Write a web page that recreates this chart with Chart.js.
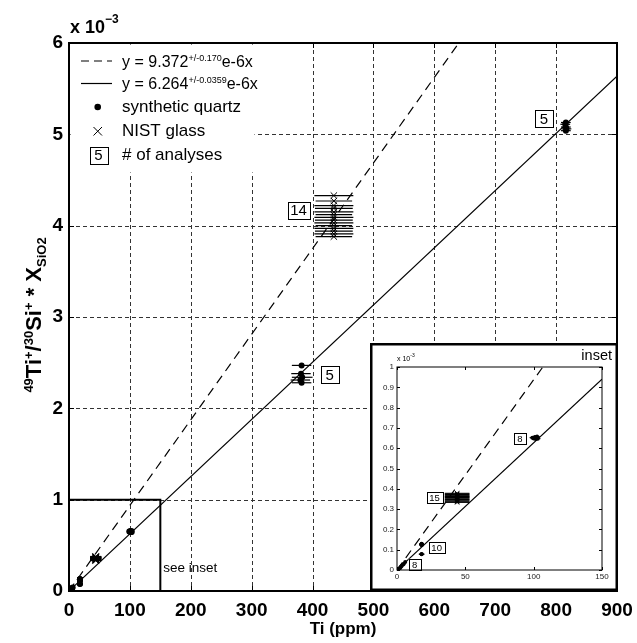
<!DOCTYPE html>
<html>
<head>
<meta charset="utf-8">
<script src="https://cdn.jsdelivr.net/npm/chart.js@4"></script>
<style>
  body { margin: 0; background: #fff; }
  #wrap { position: relative; width: 637px; height: 643px; }
  #main { position: absolute; left: 0; top: 0; }
  #inset { position: absolute; left: 370px; top: 343px; }
</style>
</head>
<body>
<div id="wrap">
  <canvas id="main" width="637" height="643"></canvas>
  <canvas id="inset" width="248" height="248"></canvas>
</div>
<script>
// Ti calibration: 49Ti+/30Si+ * X(SiO2) vs Ti (ppm), y in units of 10^-3
const FONT = "'Liberation Sans', Arial, Helvetica, sans-serif";

// fitted slopes (10^-3 per ppm)
const slopeDashed = 9.372e-3;
const slopeSolid = 6.264e-3;

// synthetic quartz
const quartzX = [1.5, 2, 2.5, 3, 3.5, 4.5, 5, 6,
  18, 18, 18, 18, 18, 18, 18, 18, 18, 18,
  99, 100, 101, 101.5, 102, 102.5, 103, 100.5,
  382, 381, 383, 380, 382,
  816, 815, 816, 817, 816];
const quartzY = [0.004, 0.009, 0.012, 0.017, 0.021, 0.027, 0.031, 0.039,
  0.129, 0.127, 0.126, 0.124, 0.125, 0.128, 0.123, 0.126, 0.079, 0.077,
  0.652, 0.648, 0.655, 0.645, 0.650, 0.658, 0.647, 0.653,
  2.47, 2.38, 2.34, 2.31, 2.28,
  5.13, 5.11, 5.08, 5.06, 5.04];
const quartzErr = [1, 1, 1, 1, 1, 1, 1, 1,
  1.5, 1.5, 1.5, 1.5, 1.5, 1.5, 1.5, 1.5, 2, 2,
  2, 2, 2, 2, 2, 2, 2, 2,
  16, 16, 17, 16, 16,
  8, 8, 8, 8, 8];

// NIST glass
const nistX = [44, 44, 44, 44, 44, 44, 44, 44, 44, 44, 44, 44, 44, 44, 44,
  435, 435, 435, 435, 435, 435, 435, 435, 435, 435, 435, 435, 435, 435];
const nistY = [0.378, 0.375, 0.372, 0.368, 0.365, 0.362, 0.360, 0.357, 0.354, 0.350, 0.347, 0.344, 0.340, 0.336, 0.333,
  4.33, 4.27, 4.22, 4.19, 4.15, 4.12, 4.09, 4.06, 4.03, 4.00, 3.97, 3.94, 3.91, 3.88];
const nistErr = [9, 9, 9, 9, 9, 9, 9, 9, 9, 9, 9, 9, 9, 9, 9,
  32, 30, 32, 31, 32, 30, 32, 31, 32, 30, 32, 31, 32, 30];

// number of analyses per cluster
const mainCountText = ['5', '14', '5'];
const insetCountText = ['8', '15', '10', '8'];

// axis limits
const mainXMax = 900, mainYMax = 6;
const insetXMax = 150, insetYMax = 1;

function pts(xs, ys) { return xs.map((x, i) => ({ x: x, y: ys[i] })); }
function fitLine(slope, xMax, yMax) {
  const xe = Math.min(xMax, yMax / slope);
  return [{ x: 0, y: 0 }, { x: xe, y: slope * xe }];
}

// text with super/subscripts
function drawRich(ctx, parts, x, y, align) {
  let w = 0;
  parts.forEach(p => {
    ctx.font = (p.bold ? 'bold ' : '') + p.size + 'px ' + FONT;
    p.w = p.gap != null ? p.gap : ctx.measureText(p.t).width;
    w += p.w;
  });
  let cx = align === 'center' ? x - w / 2 : x;
  ctx.textAlign = 'left';
  ctx.textBaseline = 'alphabetic';
  parts.forEach(p => {
    if (p.gap == null) {
      ctx.font = (p.bold ? 'bold ' : '') + p.size + 'px ' + FONT;
      ctx.fillText(p.t, cx, y + (p.dy || 0));
    }
    cx += p.w;
  });
}

function countBox(ctx, text, cx, cy, size, h) {
  ctx.font = size + 'px ' + FONT;
  const w = Math.max(ctx.measureText(text).width + 5, h + 1);
  ctx.fillStyle = '#fff';
  ctx.fillRect(cx - w / 2, cy - h / 2, w, h);
  ctx.strokeStyle = '#000';
  ctx.lineWidth = 1;
  ctx.setLineDash([]);
  ctx.strokeRect(Math.round(cx - w / 2) + 0.5, Math.round(cy - h / 2) + 0.5, Math.round(w), Math.round(h));
  ctx.fillStyle = '#000';
  ctx.textAlign = 'center';
  ctx.textBaseline = 'middle';
  ctx.fillText(text, cx, cy + 1);
}

function seg(ctx, x1, y1, x2, y2) {
  ctx.beginPath(); ctx.moveTo(x1, y1); ctx.lineTo(x2, y2); ctx.stroke();
}

// grid, inward ticks, error bars, count boxes, frame
const axesPlugin = {
  id: 'axes',
  beforeDraw(chart) {
    const ctx = chart.ctx;
    ctx.save(); ctx.fillStyle = '#fff'; ctx.fillRect(0, 0, chart.width, chart.height); ctx.restore();
  },
  beforeDatasetsDraw(chart, args, o) {
    const { ctx, chartArea: a, scales: { x, y } } = chart;
    ctx.save();
    if (o.grid) {
      ctx.strokeStyle = '#333'; ctx.lineWidth = 1; ctx.setLineDash([4, 3]);
      x.ticks.forEach(t => {
        const p = Math.round(x.getPixelForValue(t.value)) + 0.5;
        if (p > a.left + 2 && p < a.right - 2) seg(ctx, p, a.top, p, a.bottom);
      });
      y.ticks.forEach(t => {
        const p = Math.round(y.getPixelForValue(t.value)) + 0.5;
        if (p > a.top + 2 && p < a.bottom - 2) seg(ctx, a.left, p, a.right, p);
      });
      ctx.setLineDash([]);
    }
    ctx.strokeStyle = '#000'; ctx.lineWidth = 1;
    const L = o.tickLen;
    x.ticks.forEach(t => {
      const p = Math.round(x.getPixelForValue(t.value)) + 0.5;
      seg(ctx, p, a.bottom, p, a.bottom - L);
      seg(ctx, p, a.top, p, a.top + L);
    });
    y.ticks.forEach(t => {
      const p = Math.round(y.getPixelForValue(t.value)) + 0.5;
      seg(ctx, a.left, p, a.left + L, p);
      seg(ctx, a.right, p, a.right - L, p);
    });
    // horizontal error bars
    ctx.beginPath(); ctx.rect(a.left, a.top, a.right - a.left, a.bottom - a.top); ctx.clip();
    ctx.lineWidth = o.errWidth;
    chart.data.datasets.forEach(ds => {
      if (!ds.xErr) return;
      ds.data.forEach((d, i) => {
        const py = y.getPixelForValue(d.y);
        seg(ctx, x.getPixelForValue(d.x - ds.xErr[i]), py, x.getPixelForValue(d.x + ds.xErr[i]), py);
      });
    });
    ctx.restore();
  },
  afterDatasetsDraw(chart, args, o) {
    const { ctx, chartArea: a, scales: { x, y } } = chart;
    ctx.save();
    o.counts.forEach(c => countBox(ctx, c.text, x.getPixelForValue(c.x), y.getPixelForValue(c.y), o.boxFont, o.boxH));
    ctx.strokeStyle = '#000'; ctx.lineWidth = o.frameWidth; ctx.setLineDash([]);
    ctx.strokeRect(a.left, a.top, a.right - a.left, a.bottom - a.top);
    ctx.restore();
  }
};

// legend, "see inset" box, axis title, exponent for the main chart
const mainDeco = {
  id: 'mainDeco',
  afterDatasetsDraw(chart) {
    const { ctx, chartArea: a, scales: { x, y } } = chart;
    ctx.save();
    // see inset box
    ctx.strokeStyle = '#000'; ctx.lineWidth = 2;
    const bx = x.getPixelForValue(insetXMax), by = y.getPixelForValue(insetYMax);
    ctx.beginPath(); ctx.moveTo(a.left, by); ctx.lineTo(bx, by); ctx.lineTo(bx, a.bottom); ctx.stroke();
    ctx.fillStyle = '#000';
    ctx.font = '13.5px ' + FONT; ctx.textAlign = 'left'; ctx.textBaseline = 'middle';
    ctx.fillText('see inset', bx + 3, a.bottom - 23);

    // legend
    const L = a.left, T = a.top;
    ctx.fillStyle = '#fff';
    ctx.fillRect(L + 1.5, T + 1.5, 184, 128);
    ctx.strokeStyle = '#000'; ctx.lineWidth = 1.2;
    ctx.setLineDash([8, 5]); seg(ctx, L + 12, T + 18, L + 43, T + 18);
    ctx.setLineDash([]); seg(ctx, L + 12, T + 40.5, L + 43, T + 40.5);
    ctx.fillStyle = '#000';
    ctx.beginPath(); ctx.arc(L + 28.7, T + 64, 3.3, 0, Math.PI * 2); ctx.fill();
    ctx.lineWidth = 1;
    seg(ctx, L + 24.5, T + 84, L + 33, T + 92.5);
    seg(ctx, L + 24.5, T + 92.5, L + 33, T + 84);
    countBox(ctx, '5', L + 29.5, T + 112, 15, 17);
    ctx.fillStyle = '#000';
    const eq = (a1, s) => [
      { t: 'y', size: 16 }, { gap: 4.5 }, { t: '=', size: 16 }, { gap: 4.5 }, { t: a1, size: 16 },
      { t: s, size: 9, dy: -6 }, { t: 'e-6x', size: 16 }];
    drawRich(ctx, eq('9.372', '+/-0.170'), L + 53, T + 23.5, 'left');
    drawRich(ctx, eq('6.264', '+/-0.0359'), L + 53, T + 46, 'left');
    ctx.font = '17px ' + FONT; ctx.textAlign = 'left'; ctx.textBaseline = 'middle';
    ctx.fillText('synthetic quartz', L + 53, T + 64);
    ctx.fillText('NIST glass', L + 53, T + 88.5);
    ctx.fillText('# of analyses', L + 53, T + 112.5);

    // exponent
    drawRich(ctx, [{ t: 'x 10', size: 18, bold: true }, { t: '\u22123', size: 12, bold: true, dy: -10 }], 70, 33, 'left');

    // y axis title
    ctx.translate(41, 315);
    ctx.rotate(-Math.PI / 2);
    drawRich(ctx, [
      { t: '49', size: 13, bold: true, dy: -8 }, { t: 'Ti', size: 22, bold: true },
      { t: '+', size: 13, bold: true, dy: -8 }, { t: '/', size: 22, bold: true },
      { t: '30', size: 13, bold: true, dy: -8 }, { t: 'Si', size: 22, bold: true },
      { t: '+', size: 13, bold: true, dy: -8 }, { t: ' * X', size: 22, bold: true },
      { t: 'SiO2', size: 13, bold: true, dy: 5 }], 0, 0, 'center');
    ctx.restore();
  }
};

// exponent, label and heavy outline for the inset
const insetDeco = {
  id: 'insetDeco',
  afterDatasetsDraw(chart) {
    const { ctx, chartArea: a } = chart;
    ctx.save();
    ctx.fillStyle = '#000';
    drawRich(ctx, [{ t: 'x 10', size: 7 }, { t: '-3', size: 5, dy: -4 }], a.left, a.top - 6, 'left');
    ctx.font = '14.5px ' + FONT; ctx.textAlign = 'right'; ctx.textBaseline = 'alphabetic';
    ctx.fillText('inset', chart.width - 6, 17);
    ctx.strokeStyle = '#000'; ctx.lineWidth = 2.5;
    ctx.strokeRect(1.25, 1.25, chart.width - 2.5, chart.height - 2.5);
    ctx.restore();
  }
};

function datasets(xMax, yMax, dotR, crossR) {
  return [
    { type: 'line', data: fitLine(slopeDashed, xMax, yMax), borderColor: '#000', borderWidth: 1.2,
      borderDash: [9, 6], pointRadius: 0, fill: false },
    { type: 'line', data: fitLine(slopeSolid, xMax, yMax), borderColor: '#000', borderWidth: 1.2,
      pointRadius: 0, fill: false },
    { type: 'scatter', data: pts(quartzX, quartzY), xErr: quartzErr, pointStyle: 'circle',
      pointRadius: dotR, backgroundColor: '#000', borderColor: '#000', borderWidth: 0 },
    { type: 'scatter', data: pts(nistX, nistY), xErr: nistErr, pointStyle: 'crossRot',
      pointRadius: crossR, borderColor: '#000', borderWidth: 1 }
  ];
}

const mainCountPos = [{ x: 428, y: 2.37 }, { x: 377, y: 4.17 }, { x: 780, y: 5.17 }];
const insetCountPos = [{ x: 90, y: 0.65 }, { x: 27.5, y: 0.356 }, { x: 29, y: 0.113 }, { x: 13, y: 0.028 }];

new Chart(document.getElementById('main'), {
  type: 'scatter',
  data: { datasets: datasets(mainXMax, mainYMax, 3, 4.5) },
  plugins: [axesPlugin, mainDeco],
  options: {
    responsive: false, animation: false, events: [],
    layout: { padding: { left: 0, top: 43, right: 20, bottom: 0 } },
    plugins: {
      legend: { display: false }, tooltip: { enabled: false },
      axes: { grid: true, tickLen: 5, frameWidth: 2, errWidth: 1.2, boxFont: 15, boxH: 17,
        counts: mainCountText.map((t, i) => ({ text: t, x: mainCountPos[i].x, y: mainCountPos[i].y })) }
    },
    scales: {
      x: {
        type: 'linear', min: 0, max: mainXMax,
        afterFit: s => { s.height = 52; s.paddingLeft = 0; s.paddingRight = 0; },
        grid: { display: false, drawTicks: false }, border: { display: false },
        ticks: { stepSize: 100, autoSkip: false, maxRotation: 0, padding: 8, color: '#000',
          font: { family: FONT, size: 19, weight: 'bold' } },
        title: { display: true, text: 'Ti (ppm)', color: '#000', padding: { top: 0, bottom: 3 },
          font: { family: FONT, size: 17, weight: 'bold' } }
      },
      y: {
        type: 'linear', min: 0, max: mainYMax,
        afterFit: s => { s.width = 69; s.paddingTop = 0; s.paddingBottom = 0; },
        grid: { display: false, drawTicks: false }, border: { display: false },
        ticks: { stepSize: 1, padding: 6, color: '#000', font: { family: FONT, size: 19, weight: 'bold' } }
      }
    }
  }
});

new Chart(document.getElementById('inset'), {
  type: 'scatter',
  data: { datasets: datasets(insetXMax, insetYMax, 2, 3) },
  plugins: [axesPlugin, insetDeco],
  options: {
    responsive: false, animation: false, events: [],
    layout: { padding: { left: 0, top: 24, right: 16, bottom: 0 } },
    plugins: {
      legend: { display: false }, tooltip: { enabled: false },
      axes: { grid: false, tickLen: 3, frameWidth: 1, errWidth: 1, boxFont: 9.5, boxH: 11,
        counts: insetCountText.map((t, i) => ({ text: t, x: insetCountPos[i].x, y: insetCountPos[i].y })) }
    },
    scales: {
      x: {
        type: 'linear', min: 0, max: insetXMax,
        afterFit: s => { s.height = 21; s.paddingLeft = 0; s.paddingRight = 0; },
        grid: { display: false, drawTicks: false }, border: { display: false },
        ticks: { stepSize: 50, autoSkip: false, maxRotation: 0, padding: 2, color: '#222',
          font: { family: FONT, size: 8 } }
      },
      y: {
        type: 'linear', min: 0, max: insetYMax,
        afterFit: s => { s.width = 27; s.paddingTop = 0; s.paddingBottom = 0; },
        grid: { display: false, drawTicks: false }, border: { display: false },
        ticks: { stepSize: 0.1, padding: 3, color: '#222', font: { family: FONT, size: 8 },
          callback: v => String(+v.toFixed(1)) }
      }
    }
  }
});
</script>
</body>
</html>
